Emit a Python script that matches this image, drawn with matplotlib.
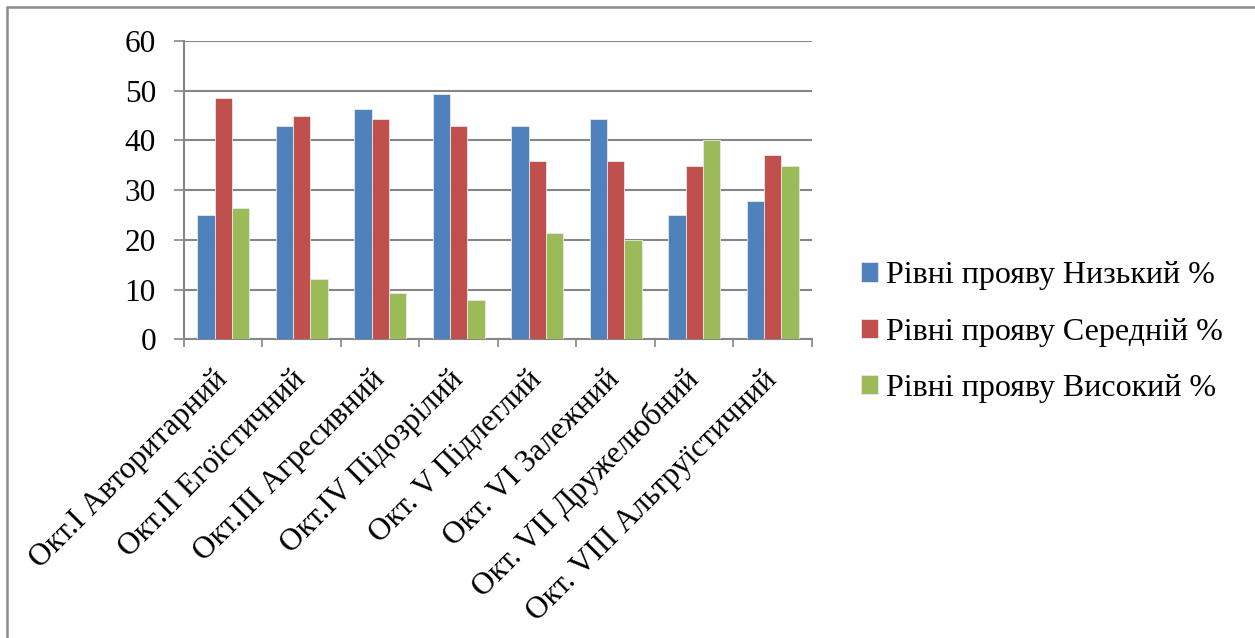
import numpy as np
import matplotlib.pyplot as plt
from matplotlib.patches import Rectangle

# Categories (octants) and series values, %
categories = ["Окт.I Авторитарний", "Окт.II Егоїстичний", "Окт.III Агресивний",
              "Окт.IV Підозрілий", "Окт. V Підлеглий", "Окт. VI Залежний",
              "Окт. VII Дружелюбний", "Окт. VIII Альтруїстичний"]
low = [25.0, 42.9, 46.4, 49.3, 42.9, 44.3, 25.0, 27.8]
mid = [48.6, 45.0, 44.3, 42.9, 35.8, 35.8, 34.9, 37.1]
high = [26.4, 12.1, 9.3, 7.9, 21.4, 20.0, 40.0, 34.9]
series_names = ["Рівні прояву Низький %", "Рівні прояву Середній %", "Рівні прояву Високий %"]
colors = ["#4F81BD", "#C0504D", "#9BBB59"]
yticks = [0, 10, 20, 30, 40, 50, 60]

plt.rcParams['font.family'] = ['Liberation Serif', 'DejaVu Serif']

fig = plt.figure(figsize=(12.55, 6.38), dpi=100)
ax = fig.add_axes([184 / 1255, 1 - 339.3 / 638, (812 - 184) / 1255, (339.3 - 41) / 638])

x = np.arange(len(categories))
w = 1 / 4.5  # Excel gap width 150%
for i, (vals, name, c) in enumerate(zip([low, mid, high], series_names, colors)):
    ax.bar(x + (i - 1) * w, vals, width=w, color=c, edgecolor="#e8e8e8",
           linewidth=0.6, label=name, zorder=3)

ax.set_xlim(-0.5, len(categories) - 0.5)
ax.set_ylim(0, 60)
ax.set_yticks(yticks)
ax.tick_params(axis='y', length=7.2, width=1.2, color="#868686", pad=13, labelsize=22.5)
ax.yaxis.grid(True, color="#868686", linewidth=1.5, zorder=0)

# tick marks between categories, labels at centres
ax.set_xticks(np.arange(len(categories) + 1) - 0.5)
ax.set_xticklabels([])
ax.tick_params(axis='x', which='major', length=6, width=1.2, color="#868686")
ax.set_xticks(x, minor=True)
ax.set_xticklabels(categories, minor=True, rotation=45, ha='right', va='center',
                   rotation_mode='anchor', fontsize=22.5)
ax.tick_params(axis='x', which='minor', length=0, pad=26)

for s in ['top', 'right']:
    ax.spines[s].set_visible(False)
for s in ['left', 'bottom']:
    ax.spines[s].set_color("#868686")
    ax.spines[s].set_linewidth(1.5)

fig.legend(loc='center left', bbox_to_anchor=(832 / 1255, 1 - 332 / 638),
           frameon=False, fontsize=23, handlelength=0.55, handleheight=0.55,
           handletextpad=0.25, labelspacing=0.85)

# chart frame
fig.patches.append(Rectangle((7 / 1255, -0.05), 1.1, 1 - 7 / 638 + 0.05,
                             transform=fig.transFigure, fill=False,
                             edgecolor="#8c8c8c", linewidth=1.8))

fig.savefig("out.png", dpi=100)
